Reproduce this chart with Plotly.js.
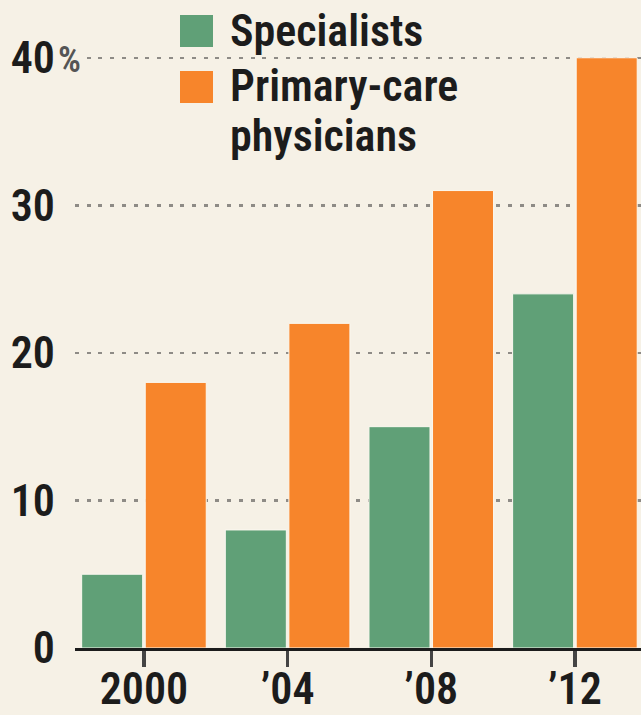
<!DOCTYPE html>
<html>
<head>
<meta charset="utf-8">
<script src="https://cdn.plot.ly/plotly-3.0.1.min.js"></script>
<style>
  html, body { margin: 0; padding: 0; background: #f6f1e6; }
  #chart { width: 641px; height: 715px; }
</style>
</head>
<body>
<div id="chart"></div>
<script>
// ---- data ----
const years = ['2000', '\u201904', '\u201908', '\u201912'];
const seriesNames = ['Specialists', 'Primary-care', 'physicians'];
const specialists = [5, 8, 15, 24];
const primaryCare = [18, 22, 31, 40];
const yTickVals = [0, 10, 20, 30, 40];
const yTickText = ['0', '10', '20', '30', '40'];

// ---- style ----
const BG = '#f6f1e6';
const GREEN = '#60a077';
const ORANGE = '#f7852b';
const INK = '#1c1c1c';
const FONT = "'Liberation Sans Narrow', 'Roboto Condensed', 'DejaVu Sans Condensed', 'Liberation Sans', sans-serif";
const FW = 600;
const FS = 44;

const W = 641, H = 715;
const M = { l: 75, r: 0, t: 43, b: 67 };
const pw = W - M.l - M.r, ph = H - M.t - M.b;
const px = x => (x - M.l) / pw;          // pixel x -> paper
const py = y => (H - M.b - y) / ph;      // pixel y -> paper

const traces = [
  {
    type: 'bar', name: seriesNames[0], x: years, y: specialists,
    marker: { color: GREEN, line: { color: '#fbf8f0', width: 1 } },
    hoverinfo: 'skip'
  },
  {
    type: 'bar', name: seriesNames[1] + ' ' + seriesNames[2], x: years, y: primaryCare,
    marker: { color: ORANGE, line: { color: '#fbf8f0', width: 1 } },
    hoverinfo: 'skip'
  }
];

const layout = {
  width: W, height: H,
  margin: M,
  paper_bgcolor: BG, plot_bgcolor: BG,
  barmode: 'group',
  bargap: 0.115,
  bargroupgap: 0.04,
  showlegend: false,
  font: { family: FONT, color: INK, size: FS, weight: FW },
  xaxis: {
    type: 'category',
    range: [-0.48, 3.46],
    showgrid: false, zeroline: false,
    showline: true, linecolor: INK, linewidth: 3,
    ticks: 'outside', ticklen: 16, tickwidth: 3.5, tickcolor: '#444',
    ticklabelstandoff: -16,
    tickfont: { family: FONT, size: FS, color: INK, weight: FW },
    fixedrange: true
  },
  yaxis: {
    range: [0, 41],
    tickvals: yTickVals, ticktext: yTickText,
    showgrid: true, gridcolor: '#8e8b86', gridwidth: 2.5, griddash: '4px,7.7px',
    zeroline: false, showline: false, ticks: '',
    ticklabelstandoff: 19,
    tickfont: { family: FONT, size: FS, color: INK, weight: FW },
    fixedrange: true
  },
  shapes: [
    // legend background (hides gridline behind the legend)
    { type: 'rect', xref: 'paper', yref: 'paper', layer: 'between',
      x0: px(160), x1: px(448), y0: py(75), y1: py(40),
      fillcolor: BG, line: { width: 0 } },
    // legend swatches
    { type: 'rect', xref: 'paper', yref: 'paper', layer: 'above',
      x0: px(180), x1: px(213), y0: py(47), y1: py(15),
      fillcolor: GREEN, line: { width: 0 } },
    { type: 'rect', xref: 'paper', yref: 'paper', layer: 'above',
      x0: px(180), x1: px(213), y0: py(103), y1: py(71),
      fillcolor: ORANGE, line: { width: 0 } }
  ],
  annotations: [
    { xref: 'paper', yref: 'paper', x: px(56), y: py(60), xanchor: 'left', yanchor: 'middle',
      text: '%', showarrow: false, bgcolor: BG, borderpad: 1,
      font: { family: FONT, size: 36, color: '#555', weight: FW } },
    { xref: 'paper', yref: 'paper', x: px(228), y: py(31), xanchor: 'left', yanchor: 'middle',
      text: seriesNames[0], showarrow: false,
      font: { family: FONT, size: FS, color: INK, weight: FW } },
    { xref: 'paper', yref: 'paper', x: px(228), y: py(86), xanchor: 'left', yanchor: 'middle',
      text: seriesNames[1], showarrow: false,
      font: { family: FONT, size: FS, color: INK, weight: FW } },
    { xref: 'paper', yref: 'paper', x: px(228), y: py(136), xanchor: 'left', yanchor: 'middle',
      text: seriesNames[2], showarrow: false,
      font: { family: FONT, size: FS, color: INK, weight: FW } }
  ]
};

Plotly.newPlot('chart', traces, layout, { displayModeBar: false, staticPlot: true });
</script>
</body>
</html>
